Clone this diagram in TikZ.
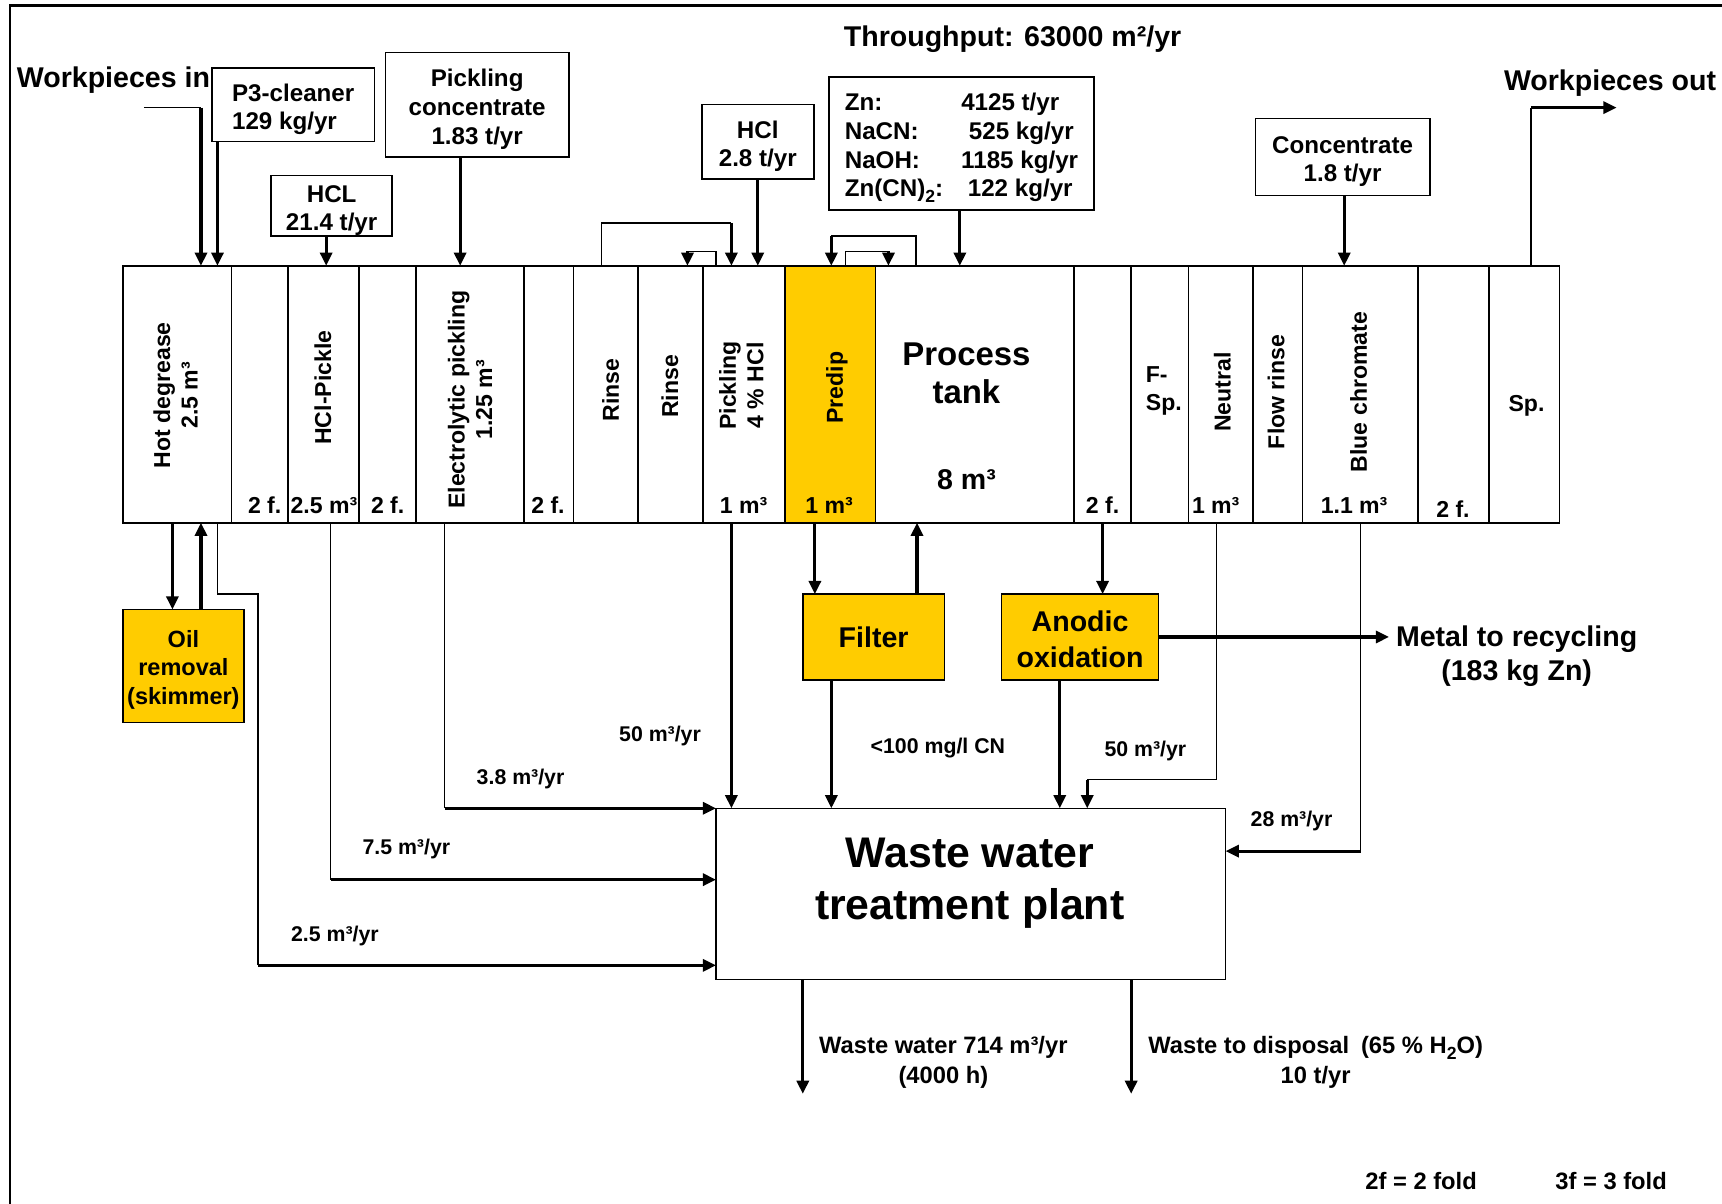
\documentclass[tikz,border=0pt]{standalone}
\usepackage{fontspec}
\setmainfont{Liberation Sans}
\usetikzlibrary{arrows.meta,positioning}
\definecolor{procyellow}{HTML}{FFCC00}
\newcommand{\fs}[2]{\fontsize{#1}{#2}\selectfont\bfseries}
\newcommand{\lift}[1]{\rule{0pt}{#1}}
\newcommand{\chemsub}[1]{\raisebox{-2.5pt}{\fontsize{8}{8}\selectfont #1}}

\begin{document}
\begin{tikzpicture}[
  x=1pt, y=-1pt,
  tank/.style={draw, line width=0.7pt, minimum height=117pt, inner sep=0pt, outer sep=0pt},
  box/.style={draw, line width=0.7pt, inner sep=0pt, outer sep=0pt, align=center, font=\fs{11}{13}},
  yel/.style={box, fill=procyellow},
  lbl/.style={inner sep=0pt, font=\fs{10.5}{12.5}},
  vlbl/.style={lbl, rotate=90, align=center},
  qty/.style={inner sep=0pt, yshift=-1.2pt, font=\fs{9.7}{12}},
  big/.style={inner sep=0pt, yshift=-1.5pt, font=\fs{13}{15.5}},
  flow/.style={-{Triangle[length=6pt,width=5.5pt]}, line width=1.4pt},
  pipe/.style={line width=0.6pt}
]
\useasboundingbox (0,0) rectangle (784,548);
% frame
\draw[line width=1.2pt] (4.5,548) -- (4.5,2.5) -- (784,2.5);

% tank line
\node[tank, minimum width=49.5pt, anchor=north west] (hd) at (56,121) {};
\node[tank, minimum width=25.5pt, right=0pt of hd] (f1) {};
\node[tank, minimum width=32.5pt, right=0pt of f1] (hclp) {};
\node[tank, minimum width=26pt, right=0pt of hclp] (f2) {};
\node[tank, minimum width=49pt, right=0pt of f2] (elp) {};
\node[tank, minimum width=22.5pt, right=0pt of elp] (f3) {};
\node[tank, minimum width=29.5pt, right=0pt of f3] (rin1) {};
\node[tank, minimum width=29.5pt, right=0pt of rin1] (rin2) {};
\node[tank, minimum width=37.5pt, right=0pt of rin2] (pick) {};
\node[tank, minimum width=41pt, fill=procyellow, right=0pt of pick] (pred) {};
\node[tank, minimum width=90.5pt, right=0pt of pred] (proc) {};
\node[tank, minimum width=26pt, right=0pt of proc] (f4) {};
\node[tank, minimum width=26pt, right=0pt of f4] (fsp) {};
\node[tank, minimum width=29.5pt, right=0pt of fsp] (neut) {};
\node[tank, minimum width=22.5pt, right=0pt of neut] (frin) {};
\node[tank, minimum width=52.5pt, right=0pt of frin] (blue) {};
\node[tank, minimum width=32.5pt, right=0pt of blue] (f5) {};
\node[tank, minimum width=32pt, right=0pt of f5] (sp) {};

% tank labels
\node[vlbl] at (80,180) {Hot degrease\\2.5 m³};
\node[vlbl] at (147,176.5) {HCl-Pickle};
\node[vlbl] at (214,182) {Electrolytic pickling\\1.25 m³};
\node[vlbl] at (278,177.5) {Rinse};
\node[vlbl] at (305,176) {Rinse};
\node[vlbl] at (337.5,175.5) {Pickling\\4 \% HCl};
\node[vlbl] at (381,176.5) {Predip};
\node[lbl, align=center, font=\fs{15}{17.5}] at (440,170) {Process\\tank};
\node[lbl, font=\fs{13}{15}] at (440,218.5) {8 m³};
\node[lbl, align=left, anchor=west] at (521.5,178) {F-\\Sp.};
\node[lbl] at (695,185) {Sp.};
\node[vlbl] at (556.5,178.5) {Neutral};
\node[vlbl] at (581,178.5) {Flow rinse};
\node[vlbl] at (618.5,178.5) {Blue chromate};
\node[lbl] at (120.5,230) {2 f.};
\node[lbl] at (147.5,230) {2.5 m³};
\node[lbl] at (176.5,230) {2 f.};
\node[lbl] at (249.5,230) {2 f.};
\node[lbl] at (338.5,230) {1 m³};
\node[lbl] at (377.5,230) {1 m³};
\node[lbl] at (502,230) {2 f.};
\node[lbl] at (553.5,230) {1 m³};
\node[lbl] at (616.5,230) {1.1 m³};
\node[lbl] at (661.5,232) {2 f.};

% inputs
\node[big, anchor=west] at (7.5,35) {Workpieces in};
\node[big] at (461,16.5) {Throughput: 63000 m²/yr};
\node[big, anchor=east] at (781.5,36.5) {Workpieces out};
\node[box, align=left, minimum width=74pt, minimum height=33.5pt] (p3) at (133.5,47.75) {\lift{12pt}P3-cleaner\\129 kg/yr};
\node[box, minimum width=83.5pt, minimum height=47.5pt] (pconc) at (217.25,47.75) {\lift{12pt}Pickling\\concentrate\\1.83 t/yr};
\node[box, minimum width=55pt, minimum height=27.5pt] (hcl1) at (151,93.75) {\lift{12pt}HCL\\21.4 t/yr};
\node[box, minimum width=51pt, minimum height=34pt] (hcl2) at (345,64.5) {\lift{12pt}HCl\\2.8 t/yr};
\node[box, align=left, minimum width=120.5pt, minimum height=60.5pt] (zn) at (437.75,65.25)
  {\lift{12pt}\makebox[53pt][l]{Zn:}4125 t/yr\\\makebox[53pt][l]{NaCN:}\hspace{3.5pt}525 kg/yr\\
   \makebox[53pt][l]{NaOH:}1185 kg/yr\\\makebox[53pt][l]{Zn(CN)\chemsub{2}:}\hspace{3pt}122 kg/yr};
\node[box, minimum width=79.5pt, minimum height=35pt] (conc) at (611.25,71.5) {\lift{12pt}Concentrate\\1.8 t/yr};

\coordinate (wpstart) at (65.5,49);
\coordinate (wpin) at (91.5,49);
\draw[pipe] (wpstart) -- (wpin);
\draw[flow] (wpin) -- (wpin |- hd.north);
\draw[flow] (99,0 |- p3.south) -- (99,0 |- hd.north);
\draw[flow] (148.5,0 |- hcl1.south) -- (148.5,0 |- hclp.north);
\draw[flow] (209.5,0 |- pconc.south) -- (209.5,0 |- elp.north);
\draw[flow] (345,0 |- hcl2.south) -- (345,0 |- pick.north);
\draw[flow] (437,0 |- zn.south) -- (437,0 |- proc.north);
\draw[flow] (612,0 |- conc.south) -- (612,0 |- blue.north);
\coordinate (wpout) at (697,49);
\coordinate (wpend) at (736,49);
\draw[pipe] (697,0 |- sp.north) -- (wpout);
\draw[flow] (wpout) -- (wpend);

% cascade loops
\coordinate (rloop) at (333,101.5);
\coordinate (sloop) at (313,114.5);
\coordinate (ploop) at (378.5,107.5);
\coordinate (qloop) at (404.5,114.5);
\draw[pipe] (274,0 |- rin1.north) |- (rloop);
\draw[flow] (rloop) -- (rloop |- pick.north);
\draw[pipe] (326,0 |- pick.north) |- (sloop);
\draw[flow] (sloop) -- (sloop |- rin2.north);
\draw[pipe] (417,0 |- proc.north) |- (ploop);
\draw[flow] (ploop) -- (ploop |- pred.north);
\draw[pipe] (385,0 |- pred.north) |- (qloop);
\draw[flow] (qloop) -- (qloop |- proc.north);

% treatment units
\node[yel, font=\fs{10.7}{13}, minimum width=55pt, minimum height=51.5pt] (oil) at (83.5,303.25) {\lift{11pt}Oil\\removal\\(skimmer)};
\node[yel, font=\fs{13}{16}, minimum width=64.5pt, minimum height=39pt] (filter) at (397.75,290) {Filter};
\node[yel, font=\fs{13}{16}, minimum width=71.5pt, minimum height=39pt] (anod) at (491.75,290) {\lift{11.5pt}Anodic\\oxidation};
\node[box, minimum width=232pt, minimum height=78pt] (wwtp) at (442,407) {};
\node[lbl, align=center, font=\fs{19.5}{23.5}] at (441.5,402) {Waste water\\treatment plant};
\node[big, align=center] (metal) at (690.5,297.25) {Metal to recycling\\(183 kg Zn)};

\draw[flow] (78.5,0 |- hd.south) -- (78.5,0 |- oil.north);
\draw[flow] (91.5,0 |- oil.north) -- (91.5,0 |- hd.south);
\draw[flow] (371,0 |- pred.south) -- (371,0 |- filter.north);
\draw[flow] (417.5,0 |- filter.north) -- (417.5,0 |- proc.south);
\draw[flow] (502,0 |- f4.south) -- (502,0 |- anod.north);
\draw[flow] (anod.east) -- ([xshift=-3pt]anod.east -| metal.west);

% waste water lines
\coordinate (hdbend) at (117.5,439.5);
\coordinate (hclpbend) at (150.5,400.5);
\coordinate (elpbend) at (202.5,368);
\coordinate (neutbend) at (495,355);
\coordinate (bluebend) at (619.5,387.5);
\draw[pipe] (99,0 |- hd.south) |- (117.5,270.5) -- (hdbend);
\draw[flow] (hdbend) -- (wwtp.west |- hdbend);
\draw[pipe] (hclpbend |- hclp.south) -- (hclpbend);
\draw[flow] (hclpbend) -- (wwtp.west |- hclpbend);
\draw[pipe] (elpbend |- elp.south) -- (elpbend);
\draw[flow] (elpbend) -- (wwtp.west |- elpbend);
\draw[flow] (333,0 |- pick.south) -- (333,0 |- wwtp.north);
\draw[flow] (378.5,0 |- filter.south) -- (378.5,0 |- wwtp.north);
\draw[flow] (482.5,0 |- anod.south) -- (482.5,0 |- wwtp.north);
\draw[pipe] (554,0 |- neut.south) |- (neutbend);
\draw[flow] (neutbend) -- (neutbend |- wwtp.north);
\draw[pipe] (bluebend |- blue.south) -- (bluebend);
\draw[flow] (bluebend) -- (wwtp.east |- bluebend);
\node[qty] at (152.5,425) {2.5 m³/yr};
\node[qty] at (185,385.5) {7.5 m³/yr};
\node[qty] at (237,353.5) {3.8 m³/yr};
\node[qty] at (300.5,334) {50 m³/yr};
\node[qty] at (427,339.5) {<100 mg/l CN};
\node[qty] at (521.5,340.5) {50 m³/yr};
\node[qty] at (588,372.5) {28 m³/yr};

% outputs
\coordinate (wwout) at (365.5,498);
\coordinate (dispout) at (515,498);
\draw[flow] (wwout |- wwtp.south) -- (wwout);
\draw[flow] (dispout |- wwtp.south) -- (dispout);
\node[lbl, align=center, font=\fs{10.8}{13.5}] at (429.5,483.75) {Waste water 714 m³/yr\\(4000 h)};
\node[lbl, align=center, font=\fs{10.8}{13.5}] at (599,483.75) {Waste to disposal\enspace(65 \% H\chemsub{2}O)\\10 t/yr};
\node[lbl, font=\fs{10.8}{13}] at (647,537.5) {2f = 2 fold};
\node[lbl, font=\fs{10.8}{13}] at (733.5,537.5) {3f = 3 fold};
\end{tikzpicture}
\end{document}
